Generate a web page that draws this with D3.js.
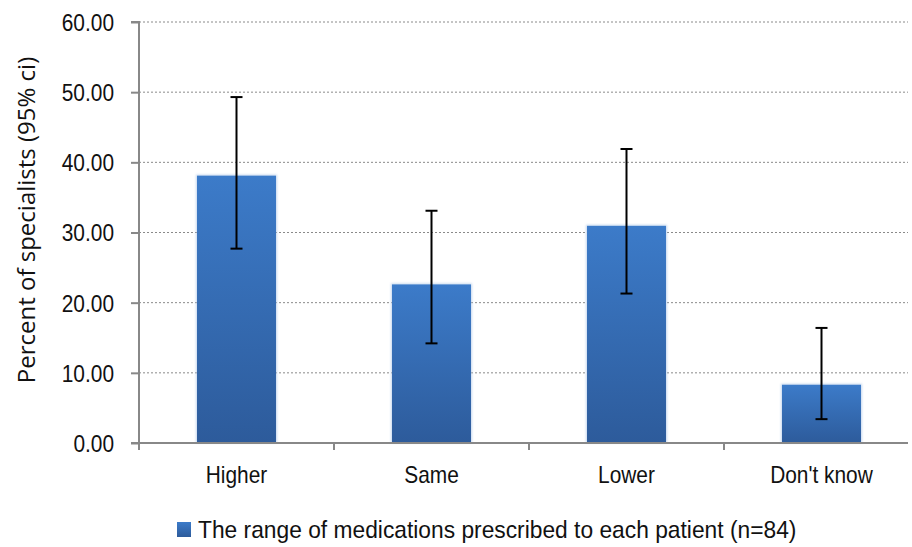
<!DOCTYPE html>
<html><head><meta charset="utf-8">
<script src="https://cdn.jsdelivr.net/npm/d3@7"></script>
<style>
html,body{margin:0;padding:0;background:#fff;}
</style></head><body>
<svg id="chart" width="912" height="547" font-family="'Liberation Sans', Arial, sans-serif"></svg>
<script>
const categories = ["Higher", "Same", "Lower", "Don't know"];
const values = [38.1, 22.6, 30.95, 8.3];
const ciLow = [27.7, 14.2, 21.3, 3.4];
const ciHigh = [49.3, 33.1, 41.9, 16.4];
const yTicks = [0, 10, 20, 30, 40, 50, 60];
const yLabel = "Percent of specialists (95% ci)";
const legendLabel = "The range of medications prescribed to each patient (n=84)";

const SX = 0.87; // horizontal condensation to mimic a narrow font
const SXL = 0.95;
const FS = 24;
const svg = d3.select("#chart");
const W = 912, H = 547;
const plotLeft = 139, plotRight = 908, plotTop = 22, plotBottom = 443;
const x = d3.scaleBand().domain(categories).range([plotLeft, 919]).paddingInner(0.595).paddingOuter(0.2975);
const y = d3.scaleLinear().domain([0, 60]).range([plotBottom, plotTop]);

const defs = svg.append("defs");
const g = defs.append("linearGradient").attr("id", "barGrad").attr("x1", 0).attr("y1", 0).attr("x2", 0).attr("y2", 1);
g.append("stop").attr("offset", "0%").attr("stop-color", "#3C7BC9");
g.append("stop").attr("offset", "100%").attr("stop-color", "#2D5B9B");
const f = defs.append("filter").attr("id", "glow").attr("x", -0.1).attr("y", -0.1).attr("width", 1.2).attr("height", 1.2);
f.append("feGaussianBlur").attr("stdDeviation", 1.2);

// gridlines
svg.append("g").selectAll("line").data(yTicks.filter(d => d > 0)).join("line")
  .attr("x1", plotLeft).attr("x2", plotRight)
  .attr("y1", d => y(d)).attr("y2", d => y(d))
  .attr("stroke", "#8a8a8a").attr("stroke-width", 1).attr("stroke-dasharray", "2,2");

// bars glow
svg.append("g").selectAll("rect").data(categories).join("rect")
  .attr("x", d => x(d) - 1).attr("width", x.bandwidth() + 2)
  .attr("y", (d, i) => y(values[i]) - 1).attr("height", (d, i) => y(0) - y(values[i]) + 1)
  .attr("fill", "#9fbde3").attr("opacity", 0.6).attr("filter", "url(#glow)");
svg.append("g").selectAll("rect").data(categories).join("rect")
  .attr("x", d => x(d)).attr("width", x.bandwidth())
  .attr("y", (d, i) => y(values[i])).attr("height", (d, i) => y(0) - y(values[i]))
  .attr("fill", "url(#barGrad)");

// y axis
const yAxis = d3.axisLeft(y).tickValues(yTicks).tickFormat(d3.format(".2f")).tickSize(8).tickPadding(17);
const ya = svg.append("g").attr("transform", `translate(${plotLeft},0)`).call(yAxis);
ya.attr("font-family", null).attr("font-size", null);
ya.select(".domain").attr("stroke", "#888").attr("stroke-width", 2).attr("d", `M-8,${y(60)}H0V${y(0)}H-8`);
ya.selectAll(".tick line").attr("stroke", "#888").attr("stroke-width", 2);
ya.selectAll(".tick text").attr("font-size", FS).attr("fill", "#111")
  .attr("x", -25 / SX).attr("dy", "0.35em").attr("transform", `scale(${SX},1)`);

// x axis
const xa = svg.append("g").attr("transform", `translate(0,${y(0)})`);
xa.append("line").attr("x1", plotLeft).attr("x2", plotRight).attr("stroke", "#888").attr("stroke-width", 2);
const bounds = categories.map((c, i) => plotLeft + i * x.step()).concat([plotLeft + categories.length * x.step()]).filter(d => d <= W);
xa.selectAll("line.t").data(bounds)
  .join("line").attr("class", "t")
  .attr("x1", d => d).attr("x2", d => d).attr("y1", 0).attr("y2", 7)
  .attr("stroke", "#888").attr("stroke-width", 2);
xa.selectAll("text").data(categories).join("text")
  .attr("transform", `scale(${SX},1)`)
  .attr("x", d => (x(d) + x.bandwidth() / 2) / SX).attr("y", 40)
  .attr("text-anchor", "middle").attr("font-size", FS).attr("fill", "#111").text(d => d);

// error bars
const eb = svg.append("g").attr("stroke", "#000").attr("stroke-width", 2);
categories.forEach((c, i) => {
  const cx = x(c) + x.bandwidth() / 2;
  eb.append("line").attr("x1", cx).attr("x2", cx).attr("y1", y(ciLow[i])).attr("y2", y(ciHigh[i]));
  eb.append("line").attr("x1", cx - 6).attr("x2", cx + 6).attr("y1", y(ciLow[i])).attr("y2", y(ciLow[i]));
  eb.append("line").attr("x1", cx - 6).attr("x2", cx + 6).attr("y1", y(ciHigh[i])).attr("y2", y(ciHigh[i]));
});

// y label
svg.append("text").attr("transform", `translate(35,220) rotate(-90)`)
  .attr("text-anchor", "middle").attr("font-size", 24).attr("fill", "#111")
  .style("font-family", "'Open Sans','Noto Sans',sans-serif").style("font-weight", 500)
  .text(yLabel);

// legend
const lg = svg.append("g").attr("transform", "translate(177,522)");
lg.append("rect").attr("width", 14).attr("height", 15).attr("fill", "url(#barGrad)");
lg.append("text").attr("transform", `scale(${SXL},1)`).attr("x", 21 / SXL).attr("y", 16)
  .attr("font-size", FS).attr("fill", "#111").text(legendLabel);
</script>
</body></html>
